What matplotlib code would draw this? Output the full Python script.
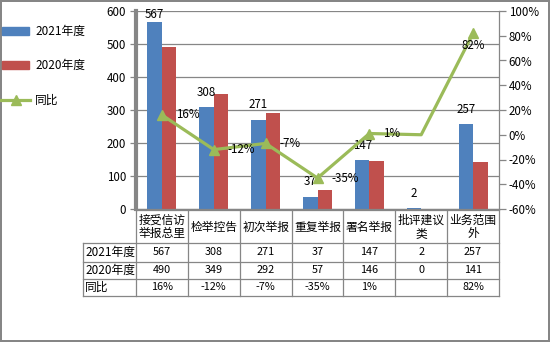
import matplotlib
matplotlib.use("Agg")
import matplotlib.pyplot as plt
from matplotlib.patches import Rectangle
from matplotlib.lines import Line2D
import numpy as np

plt.rcParams['font.family'] = ['Noto Sans CJK SC', 'DejaVu Sans']

categories = ["接受信访\n举报总里", "检举控告", "初次举报", "重复举报", "署名举报", "批评建议\n类", "业务范围\n外"]
y2021 = [567, 308, 271, 37, 147, 2, 257]
y2020 = [490, 349, 292, 57, 146, 0, 141]
yoy = [16, -12, -7, -35, 1, None, 82]          # percent, blank where undefined
row_labels = ["2021年度", "2020年度", "同比"]

BLUE = "#4F81BD"
RED = "#C0504D"
GREEN = "#9BBB59"
GRID = "#868686"

W, H = 550, 342
fig = plt.figure(figsize=(W / 100, H / 100), dpi=100)
fig.patch.set_edgecolor(GRID)
fig.patch.set_linewidth(1.5)


def fx(px):
    return px / W


def fy(py):
    return 1 - py / H


# plot area in pixels
L, R, T, B = 136, 499, 11, 209
ax = fig.add_axes([fx(L), fy(B), fx(R) - fx(L), fy(T) - fy(B)])
n = len(categories)
x = np.arange(n)
bw = 0.28
ax.bar(x - bw / 2, y2021, bw, color=BLUE, zorder=2)
ax.bar(x + bw / 2, y2020, bw, color=RED, zorder=2)
ax.set_xlim(-0.5, n - 0.5)
ax.set_ylim(0, 600)
ax.set_yticks(range(0, 601, 100))
ax.set_xticks([])
ax.grid(axis='y', color=GRID, linewidth=0.9, zorder=0)
ax.tick_params(axis='y', labelsize=8.3, length=4, color=GRID, pad=3, width=0.9)
for s in ['top', 'right']:
    ax.spines[s].set_visible(False)
ax.spines['left'].set_color(GRID)
ax.spines['left'].set_linewidth(3)
ax.spines['bottom'].set_color(GRID)
ax.spines['bottom'].set_linewidth(0.9)

# value labels above the 2021 bars
px_per_unit = (B - T) / 600
off = 15 / px_per_unit
for xi, v in zip(x, y2021):
    ax.text(xi - bw / 2, min(v + off, 590), str(v), ha='center', va='center',
            fontsize=8.3, zorder=5)

# year-on-year line on the secondary axis
ax2 = ax.twinx()
ax2.set_ylim(-60, 100)
ax2.set_yticks(range(-60, 101, 20))
ax2.set_yticklabels([f"{t}%" for t in range(-60, 101, 20)])
ax2.tick_params(axis='y', labelsize=8.3, length=5, color=GRID, pad=2, width=0.9)
for s in ['top', 'left', 'bottom']:
    ax2.spines[s].set_visible(False)
ax2.spines['right'].set_color(GRID)
ax2.spines['right'].set_linewidth(0.9)

line_vals = [0 if v is None else v for v in yoy]
ax2.plot(x, line_vals, color=GREEN, linewidth=2.3, zorder=3)
mx = [xi for xi, v in zip(x, yoy) if v is not None]
my = [v for v in yoy if v is not None]
ax2.plot(mx, my, linestyle='none', marker='^', markersize=7.5, color=GREEN, zorder=4)
for xi, v in zip(x, yoy):
    if v is None:
        continue
    if xi == n - 1:
        ax2.annotate(f"{v}%", (xi, v), xytext=(0, -9), textcoords='offset points',
                     ha='center', va='center', fontsize=8.3)
    else:
        ax2.annotate(f"{v}%", (xi, v), xytext=(10, 0), textcoords='offset points',
                     ha='left', va='center', fontsize=8.3)

# data table beneath the plot
col_w = (R - L) / n
rows_y = [210, 243, 261.5, 279, 296]
tbl_left = 82.5


def hline(x0, x1, y):
    fig.add_artist(Line2D([fx(x0), fx(x1)], [fy(y), fy(y)], color=GRID, linewidth=0.9))


def vline(xx, y0, y1):
    fig.add_artist(Line2D([fx(xx), fx(xx)], [fy(y0), fy(y1)], color=GRID, linewidth=0.9))


hline(L, R, rows_y[0])
for yy in rows_y[1:]:
    hline(tbl_left, R, yy)
vline(tbl_left, rows_y[1], rows_y[-1])
for i in range(n + 1):
    vline(L + i * col_w, rows_y[0], rows_y[-1])

for i, cat in enumerate(categories):
    cx = L + (i + 0.5) * col_w
    fig.text(fx(cx), fy((rows_y[0] + rows_y[1]) / 2 + 0.5), cat, ha='center', va='center',
             fontsize=8.5, linespacing=1.05)

table_rows = [
    [str(v) for v in y2021],
    [str(v) for v in y2020],
    ["" if v is None else f"{v}%" for v in yoy],
]
for r, (lab, vals) in enumerate(zip(row_labels, table_rows)):
    cy = (rows_y[r + 1] + rows_y[r + 2]) / 2
    fig.text(fx(tbl_left + 2.5), fy(cy), lab, ha='left', va='center', fontsize=8.5)
    for i, s in enumerate(vals):
        cx = L + (i + 0.5) * col_w
        fig.text(fx(cx), fy(cy), s, ha='center', va='center', fontsize=7.8)

# legend on the left
fig.add_artist(Rectangle((fx(2), fy(34.5)), fx(29) - fx(2), fy(26.5) - fy(34.5),
                         transform=fig.transFigure, color=BLUE))
fig.text(fx(35), fy(31), "2021年度", ha='left', va='center', fontsize=8.5)
fig.add_artist(Rectangle((fx(2), fy(69)), fx(29) - fx(2), fy(61) - fy(69),
                         transform=fig.transFigure, color=RED))
fig.text(fx(35), fy(65), "2020年度", ha='left', va='center', fontsize=8.5)
fig.add_artist(Line2D([fx(1), fx(30)], [fy(100), fy(100)], color=GREEN, linewidth=2.3))
fig.add_artist(Line2D([fx(15.5)], [fy(100)], color=GREEN, marker='^', markersize=7.5,
                      linestyle='none'))
fig.text(fx(35), fy(100), "同比", ha='left', va='center', fontsize=8.5)

fig.savefig("out.png", dpi=100)
